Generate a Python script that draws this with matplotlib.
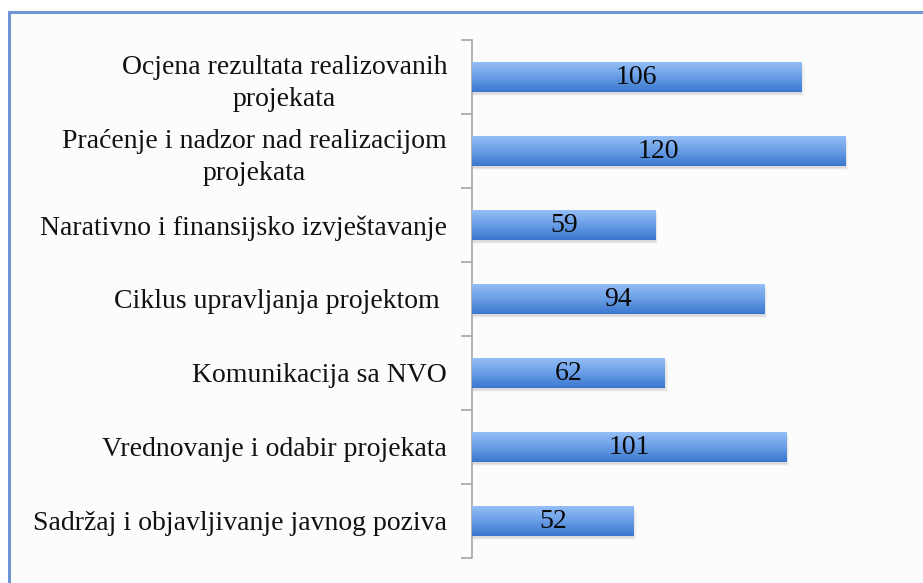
import matplotlib
matplotlib.use("Agg")
import matplotlib.pyplot as plt
import numpy as np
from matplotlib.patches import Rectangle
from matplotlib.colors import LinearSegmentedColormap

categories = [
    "Sadržaj i objavljivanje javnog poziva",
    "Vrednovanje i odabir projekata",
    "Komunikacija sa NVO",
    "Ciklus upravljanja projektom ",
    "Narativno i finansijsko izvještavanje",
    "Praćenje i nadzor nad realizacijom\nprojekata",
    "Ocjena rezultata realizovanih\nprojekata",
]
values = [52, 101, 62, 94, 59, 120, 106]

plt.rcParams['font.family'] = ['Liberation Serif', 'DejaVu Serif']

W, H = 923, 583
fig = plt.figure(figsize=(W / 100, H / 100), dpi=100)
fig.patch.set_facecolor("white")

# outer frame
frame = Rectangle((9 / W, -0.05), 1.1, 1 - 12 / H + 0.05, transform=fig.transFigure,
                  facecolor="#fcfcfc", edgecolor="#6e97d4", linewidth=2.2, zorder=-5)
fig.patches.append(frame)

left, right, top, bottom = 472, 923, 40, 558
ax = fig.add_axes([left / W, 1 - bottom / H, (right - left) / W, (bottom - top) / H])
ax.set_facecolor("none")
ax.set_zorder(2)

n = len(categories)
y = np.arange(n)
bh = 0.41

grad = np.linspace(0, 1, 64).reshape(-1, 1)
cmap = LinearSegmentedColormap.from_list("g", ["#3a78cf", "#6a9ee6", "#97c0f8"])

bars = ax.barh(y, values, height=bh, color="#6a9ee6", zorder=3, linewidth=0)
for b, v in zip(bars, values):
    x0, y0 = b.get_x(), b.get_y()
    w, h = b.get_width(), b.get_height()
    for k, a in enumerate([0.10, 0.08, 0.05]):
        ax.add_patch(Rectangle((x0 + 0.15 + k * 0.1, y0 - 0.02 - k * 0.015), w + k * 0.3, h,
                               facecolor="#606060", alpha=a, linewidth=0, zorder=2))
    im = ax.imshow(grad, extent=[x0, x0 + w, y0, y0 + h], origin="lower",
                   cmap=cmap, aspect="auto", zorder=4, interpolation="bilinear")
    im.set_clip_path(b)
    ax.text(x0 + w / 2, y0 + h / 2, str(v), ha="center", va="center",
            fontsize=20, color="#0a0a0a", zorder=5)

ax.set_xlim(0, 145)
ax.set_ylim(-0.5, n - 0.5)

for s in ["top", "right", "bottom"]:
    ax.spines[s].set_visible(False)
ax.spines["left"].set_color("#a6a6a6")
ax.spines["left"].set_linewidth(1.2)
ax.set_xticks([])
ax.set_yticks(y)
ax.set_yticklabels(categories, fontsize=20, color="#111111", multialignment="center",
                   linespacing=1.35)
ax.tick_params(axis="y", which="major", length=0, pad=18)
ax.set_yticks(np.arange(-0.5, n, 1.0), minor=True)
ax.tick_params(axis="y", which="minor", length=8, color="#a6a6a6", width=1.2)

fig.savefig("out.png", dpi=100)
